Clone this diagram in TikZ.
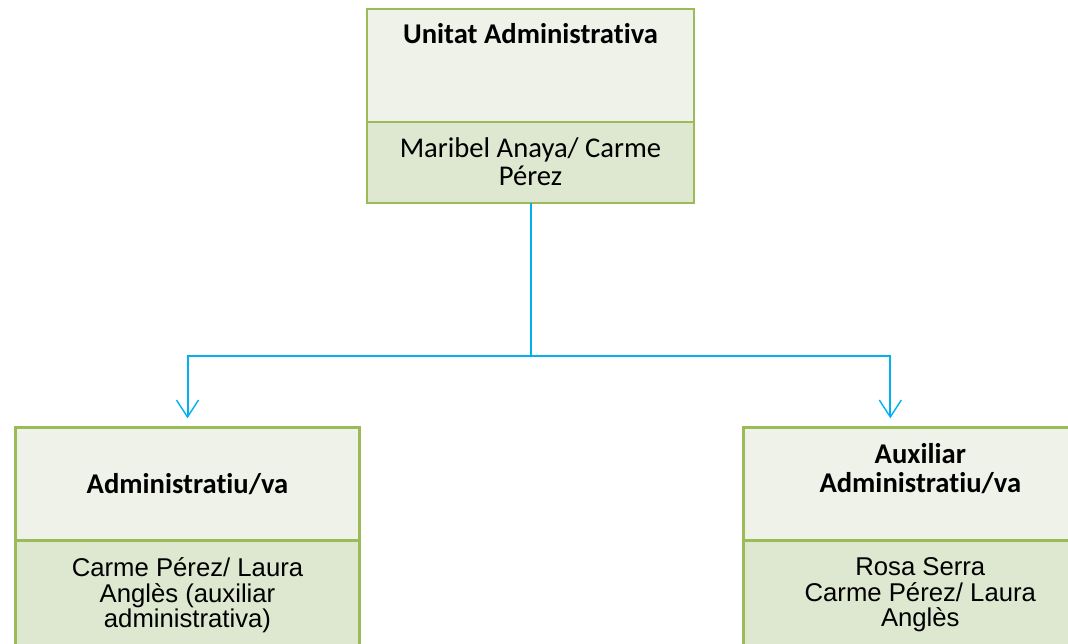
\documentclass[tikz,border=0pt]{standalone}
\usepackage{fontspec}
\setmainfont{Carlito}[Ligatures=NoCommon]
\newfontfamily\arialfont{Liberation Sans}
\usetikzlibrary{arrows.meta, positioning, calc}
\definecolor{cgreen}{HTML}{9BBB59}
\definecolor{chead}{HTML}{EFF2E9}
\definecolor{cbody}{HTML}{DEE7D0}
\definecolor{cblue}{HTML}{00B0F0}
\tikzset{
  headbox/.style={draw=cgreen, fill=chead, line width=2.7pt, inner sep=0pt, outer sep=0pt, minimum height=113pt},
  bodybox/.style={draw=cgreen, fill=cbody, line width=2.7pt, inner sep=0pt, outer sep=0pt},
  title/.style={font=\fontsize{28.6}{28.5}\selectfont\bfseries, align=center, inner sep=0pt},
  names/.style={font=\fontsize{28.6}{28}\selectfont, align=center, inner sep=0pt},
  arialnames/.style={font=\arialfont\fontsize{25.7}{25.7}\selectfont, align=center, inner sep=0pt},
  link/.style={draw=cblue, line width=2pt},
  arrow/.style={link, -{Straight Barb[length=17pt, width=22pt, line width=1.4pt]}, shorten >=9pt},
}

\begin{document}
\begin{tikzpicture}[x=1pt, y=1pt]
  \clip (0,0) rectangle (1068,643);
  \useasboundingbox (0,0) rectangle (1068,643);

  % unitat
  \node[headbox, minimum width=327pt, anchor=north west] (uaHead) at (367,634) {};
  \node[bodybox, minimum width=327pt, minimum height=81pt, below=0pt of uaHead] (uaBody) {};
  \node[title, below=14pt of uaHead.north] (uaTitle) {Unitat Administrativa};
  \node[names, below=15pt of uaBody.north] (uaNames) {Maribel Anaya/ Carme\\P\'erez};

  % administratiu/va
  \node[headbox, minimum width=343.6pt, anchor=north west] (admHead) at (15.7,215.7) {};
  \node[bodybox, minimum width=343.6pt, minimum height=113pt, below=0pt of admHead] (admBody) {};
  \node[title] (admTitle) at (admHead) {Administratiu/va};
  \node[arialnames, below=17pt of admBody.north] (admNames) {Carme P\'erez/ Laura\\Angl\`es (auxiliar\\administrativa)};

  % auxiliar
  \node[headbox, minimum width=354pt, anchor=north west] (auxHead) at (743.3,215.7) {};
  \node[bodybox, minimum width=354pt, minimum height=113pt, below=0pt of auxHead] (auxBody) {};
  \node[title, below=16pt of auxHead.north] (auxTitle) {Auxiliar\\Administratiu/va};
  \node[arialnames, below=17pt of auxBody.north] (auxNames) {Rosa Serra\\Carme P\'erez/ Laura\\Angl\`es};

  % connectors
  \coordinate (split) at ($(uaBody.south)+(0,-153)$);
  \draw[link] (uaBody.south) -- (split);
  \draw[arrow] (split) -| (admHead.north);
  \draw[arrow] (split) -| ([xshift=-30pt]auxHead.north);
\end{tikzpicture}
\end{document}
